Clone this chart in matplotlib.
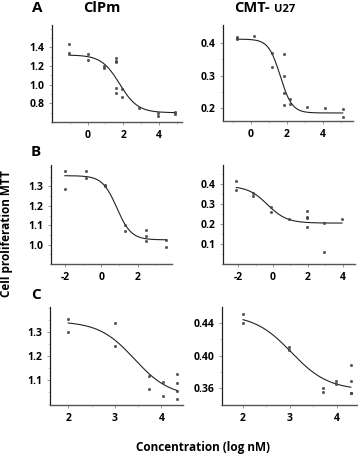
import numpy as np
import matplotlib
matplotlib.use("Agg")
import matplotlib.pyplot as plt
from matplotlib.ticker import AutoMinorLocator

plt.rcParams['font.family'] = ['Open Sans', 'DejaVu Sans']
plt.rcParams['axes.unicode_minus'] = False

# ---- data (log nM, MTT) ----
a1_x = [-1.05, -1.05, 0.0, 0.0, 0.92, 0.92, 1.61, 1.61, 1.61, 1.61, 1.61, 1.91, 1.91, 2.88, 3.96, 3.96, 4.89, 4.89]
a1_y = [1.44, 1.34, 1.33, 1.27, 1.20, 1.18, 1.29, 1.26, 1.24, 0.97, 0.91, 0.95, 0.87, 0.75, 0.70, 0.66, 0.71, 0.69]
a1_fit = [1.32, 0.70, 1.80, 0.85]   # top, bottom, logIC50, hill
a1_rng = [-1.05, 4.95]

a2_x = [-0.80, -0.80, 0.19, 1.15, 1.15, 1.85, 1.85, 1.85, 1.85, 2.17, 2.17, 3.13, 4.11, 5.09, 5.09]
a2_y = [0.418, 0.411, 0.422, 0.368, 0.327, 0.365, 0.300, 0.245, 0.208, 0.227, 0.213, 0.204, 0.199, 0.197, 0.174]
a2_fit = [0.412, 0.185, 1.63, 1.33]
a2_rng = [-0.8, 5.1]

b1_x = [-2.02, -2.02, -0.85, -0.85, 0.22, 0.22, 1.33, 1.33, 2.48, 2.48, 2.48, 3.59, 3.59]
b1_y = [1.378, 1.286, 1.378, 1.342, 1.308, 1.300, 1.100, 1.068, 1.077, 1.043, 1.021, 1.026, 0.990]
b1_fit = [1.355, 1.025, 0.85, 1.09]
b1_rng = [-2.02, 3.6]

b2_x = [-2.13, -2.13, -1.12, -1.12, -0.11, -0.11, 0.91, 1.93, 1.93, 1.93, 1.93, 2.91, 2.91, 3.93]
b2_y = [0.415, 0.370, 0.353, 0.340, 0.287, 0.262, 0.223, 0.265, 0.237, 0.228, 0.183, 0.207, 0.062, 0.223]
b2_fit = [0.39, 0.205, -0.32, 0.78]
b2_rng = [-2.1, 3.95]

c1_x = [2.0, 2.0, 3.01, 3.01, 3.74, 3.74, 4.04, 4.04, 4.34, 4.34, 4.34, 4.34]
c1_y = [1.353, 1.300, 1.336, 1.243, 1.117, 1.062, 1.093, 1.033, 1.125, 1.086, 1.055, 1.020]
c1_fit = [1.345, 1.03, 3.42, 1.14]
c1_rng = [2.0, 4.34]

c2_x = [1.99, 1.99, 2.99, 2.99, 3.70, 3.70, 3.99, 3.99, 4.30, 4.30, 4.30, 4.30]
c2_y = [0.4505, 0.440, 0.410, 0.407, 0.360, 0.3555, 0.369, 0.365, 0.388, 0.369, 0.355, 0.354]
c2_fit = [0.450, 0.358, 3.03, 1.10]
c2_rng = [2.0, 4.3]

panels = [
    dict(x=a1_x, y=a1_y, fit=a1_fit, rng=a1_rng, pos=[0.145, 0.733, 0.363, 0.212],
         xlim=(-2.0, 5.3), ylim=(0.6, 1.64), xt=[0, 2, 4], yt=[0.8, 1.0, 1.2, 1.4], fmt='{:.1f}'),
    dict(x=a2_x, y=a2_y, fit=a2_fit, rng=a2_rng, pos=[0.623, 0.735, 0.363, 0.210],
         xlim=(-1.55, 5.67), ylim=(0.16, 0.455), xt=[0, 2, 4], yt=[0.2, 0.3, 0.4], fmt='{:.1f}'),
    dict(x=b1_x, y=b1_y, fit=b1_fit, rng=b1_rng, pos=[0.142, 0.422, 0.338, 0.217],
         xlim=(-2.8, 3.9), ylim=(0.90, 1.41), xt=[-2, 0, 2], yt=[1.0, 1.1, 1.2, 1.3], fmt='{:.1f}'),
    dict(x=b2_x, y=b2_y, fit=b2_fit, rng=b2_rng, pos=[0.623, 0.422, 0.369, 0.217],
         xlim=(-2.86, 4.7), ylim=(0.0, 0.495), xt=[-2, 0, 2, 4], yt=[0.1, 0.2, 0.3, 0.4], fmt='{:.1f}'),
    dict(x=c1_x, y=c1_y, fit=c1_fit, rng=c1_rng, pos=[0.140, 0.114, 0.372, 0.214],
         xlim=(1.61, 4.47), ylim=(0.996, 1.404), xt=[2, 3, 4], yt=[1.1, 1.2, 1.3], fmt='{:.1f}'),
    dict(x=c2_x, y=c2_y, fit=c2_fit, rng=c2_rng, pos=[0.620, 0.114, 0.377, 0.214],
         xlim=(1.55, 4.43), ylim=(0.34, 0.459), xt=[2, 3, 4], yt=[0.36, 0.40, 0.44], fmt='{:.2f}'),
]

def four_pl(x, top, bottom, x0, h):
    return bottom + (top - bottom) / (1.0 + 10 ** ((x - x0) * h))

fig = plt.figure(figsize=(3.58, 4.57), dpi=100)

for p in panels:
    ax = fig.add_axes(p['pos'])
    xx = np.linspace(p['rng'][0], p['rng'][1], 200)
    ax.plot(xx, four_pl(xx, *p['fit']), color='#222222', lw=0.8)
    ax.scatter(p['x'], p['y'], s=3, marker='o', facecolor='#555555', edgecolor='#222222',
               linewidths=0.3, zorder=3)
    ax.set_xlim(*p['xlim'])
    ax.set_ylim(*p['ylim'])
    ax.set_xticks(p['xt'])
    ax.set_xticklabels([str(v) for v in p['xt']])
    ax.set_yticks(p['yt'])
    ax.set_yticklabels([p['fmt'].format(v) for v in p['yt']])
    ax.yaxis.set_minor_locator(AutoMinorLocator(2))
    ax.xaxis.set_minor_locator(AutoMinorLocator(2))
    for s in ['top', 'right']:
        ax.spines[s].set_visible(False)
    ax.spines['left'].set_color('#222222')
    ax.spines['bottom'].set_color('#555555')
    ax.spines['left'].set_linewidth(0.9)
    ax.spines['bottom'].set_linewidth(1.0)
    ax.tick_params(axis='both', which='major', length=2.5, width=0.6, color='#888888',
                   labelsize=7.5, pad=3)
    ax.tick_params(axis='both', which='minor', length=1.5, width=0.4, color='#aaaaaa')
    for lab in ax.get_xticklabels() + ax.get_yticklabels():
        lab.set_fontweight('bold')

W, H = 358.0, 457.0
def fx(px): return px / W
def fy(py): return 1 - py / H

fig.text(fx(37), fy(8), 'A', fontsize=11, fontweight='bold', ha='center', va='center')
fig.text(fx(36), fy(152), 'B', fontsize=11, fontweight='bold', ha='center', va='center')
fig.text(fx(36), fy(295), 'C', fontsize=11, fontweight='bold', ha='center', va='center')
fig.text(fx(102), fy(8), 'ClPm', fontsize=10.5, fontweight='bold', ha='center', va='center')
fig.text(fx(270), fy(8), 'CMT-', fontsize=10.5, fontweight='bold', ha='right', va='center')
fig.text(fx(274), fy(9), 'U27', fontsize=8, fontweight='bold', ha='left', va='center')
fig.text(fx(7), fy(234), 'Cell proliferation MTT', fontsize=8.5, fontweight='bold',
         rotation=90, ha='center', va='center')
fig.text(fx(203), fy(448), 'Concentration (log nM)', fontsize=8.5, fontweight='bold',
         ha='center', va='center')

fig.savefig('out.png', dpi=100)
